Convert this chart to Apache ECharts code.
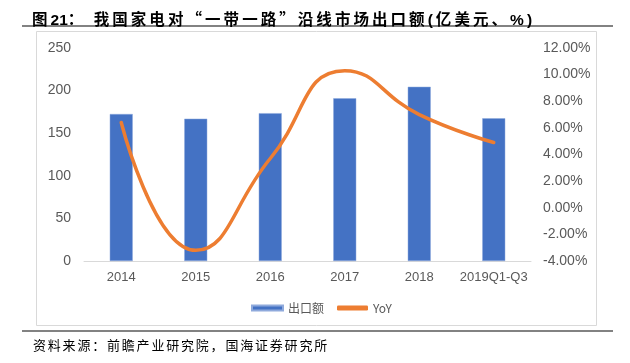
<!DOCTYPE html>
<html>
<head>
<meta charset="utf-8">
<script src="https://cdn.jsdelivr.net/npm/echarts@6/dist/echarts.min.js"></script>
<style>
html,body{margin:0;padding:0;background:#fff;}
#wrap{position:relative;width:630px;height:363px;}
#c{position:absolute;left:0;top:0;width:630px;height:363px;}
.t{position:absolute;white-space:nowrap;color:#000;}
#title{left:32px;top:8px;font-family:"Liberation Sans","Noto Sans CJK SC",sans-serif;font-weight:bold;font-size:15.5px;letter-spacing:3.05px;line-height:20px;}
#title .n{letter-spacing:0;}
#title .q{font-family:"Noto Sans CJK SC",sans-serif;}
#source{left:33px;top:336px;font-family:"Noto Sans CJK SC",sans-serif;font-size:13px;letter-spacing:1.8px;line-height:18px;}
</style>
</head>
<body>
<div id="wrap">
<div id="c"></div>
<div class="t" id="title"></div>
<div class="t" id="source"></div>
</div>
<script>
const categories = ['2014', '2015', '2016', '2017', '2018', '2019Q1-Q3'];
const exportValues = [172.5, 167, 173.5, 191, 204.5, 167.5];
const yoyValues = [6.4, -3.2, 3.7, 10.3, 7.0, 4.9];
const leftTicks = { min: 0, max: 250, interval: 50 };
const rightTicks = { min: -4, max: 12, interval: 2 };
const titleParts = ['图', '21', '：  我国家电对', '“', '一带一路', '”', '沿线市场出口额(亿美元、%)'];
const sourceText = '资料来源：前瞻产业研究院，国海证券研究所';

const titleEl = document.getElementById('title');
titleParts.forEach((p, i) => {
  const s = document.createElement('span');
  s.textContent = p;
  if (i === 1) s.className = 'n';
  if (p === '“' || p === '”') s.className = 'q';
  titleEl.appendChild(s);
});
document.getElementById('source').textContent = sourceText;

const chart = echarts.init(document.getElementById('c'), null, { renderer: 'canvas' });
const axisLabelColor = '#595959';
chart.setOption({
  animation: false,
  backgroundColor: '#fff',
  graphic: [
    { type: 'line', shape: { x1: 22, y1: 26, x2: 613, y2: 26 }, style: { stroke: '#595959', lineWidth: 1.5 } },
    { type: 'line', shape: { x1: 22, y1: 331, x2: 613, y2: 331 }, style: { stroke: '#595959', lineWidth: 1.5 } },
    { type: 'rect', shape: { x: 36.5, y: 31.5, width: 560, height: 294 }, style: { fill: 'none', stroke: '#d9d9d9', lineWidth: 1 }, z: -1 }
  ],
  legend: {
    left: 246, top: 297,
    itemWidth: 31, itemHeight: 5, itemGap: 13,
    textStyle: { fontFamily: '"Noto Sans CJK SC", sans-serif', fontSize: 12, color: axisLabelColor },
    data: [
      { name: '出口额', icon: 'rect' },
      { name: 'YoY', icon: 'roundRect' }
    ]
  },
  grid: { left: 84, right: 99, top: 48, bottom: 102, containLabel: false },
  xAxis: {
    type: 'category',
    data: categories,
    axisLine: { lineStyle: { color: '#d9d9d9', width: 1 } },
    axisTick: { show: false },
    axisLabel: { interval: 0, color: axisLabelColor, fontSize: 13, fontFamily: 'Liberation Sans, sans-serif', margin: 10 }
  },
  yAxis: [
    {
      type: 'value', min: leftTicks.min, max: leftTicks.max, interval: leftTicks.interval,
      axisLine: { show: false }, axisTick: { show: false }, splitLine: { show: false },
      axisLabel: { color: axisLabelColor, fontSize: 14, fontFamily: 'Liberation Sans, sans-serif', margin: 13 }
    },
    {
      type: 'value', min: rightTicks.min, max: rightTicks.max, interval: rightTicks.interval,
      axisLine: { show: false }, axisTick: { show: false }, splitLine: { show: false },
      axisLabel: { color: axisLabelColor, fontSize: 14, fontFamily: 'Liberation Sans, sans-serif', margin: 12,
        formatter: v => v.toFixed(2) + '%' }
    }
  ],
  series: [
    {
      name: '出口额', type: 'bar', data: exportValues, barWidth: 23,
      itemStyle: { color: '#4472C4', borderColor: '#8faadc', borderWidth: 0.5 }
    },
    {
      name: 'YoY', type: 'line', yAxisIndex: 1, data: yoyValues, smooth: 0.5,
      symbol: 'none', lineStyle: { color: '#ED7D31', width: 3.5, cap: 'round' }, itemStyle: { color: '#ED7D31' }
    }
  ]
});
</script>
</body>
</html>
